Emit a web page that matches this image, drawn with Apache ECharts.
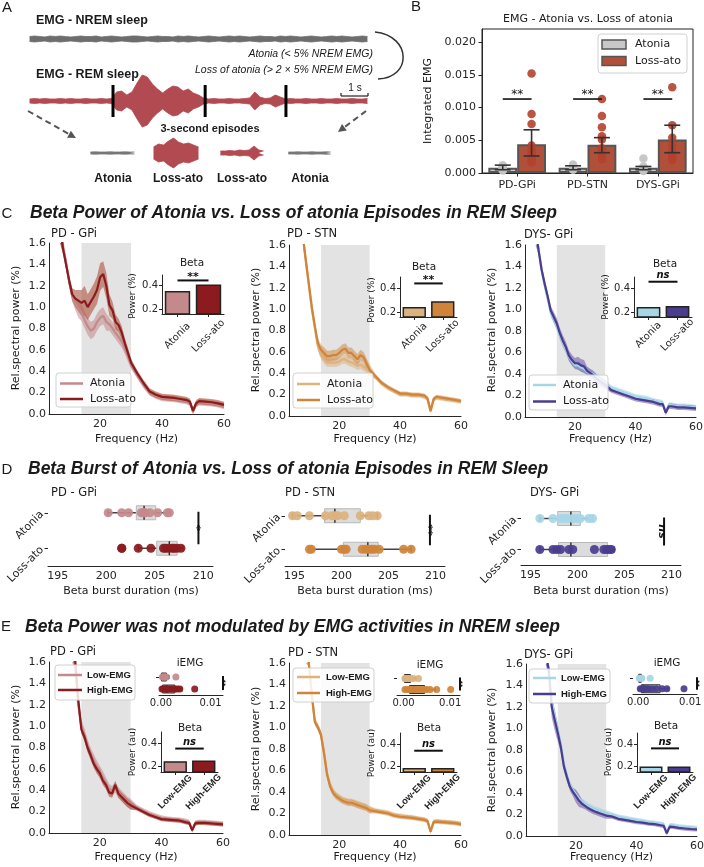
<!DOCTYPE html>
<html>
<head>
<meta charset="utf-8">
<script src="https://cdn.jsdelivr.net/npm/echarts@6.0.0/dist/echarts.min.js"></script>
<style>
html,body{margin:0;padding:0;background:#fff;}
#chart{width:704px;height:867px;}
</style>
</head>
<body>
<div id="chart"></div>
<script>
// ======================= DATA =======================
// ---- Panel A : EMG envelopes (half amplitude), 6 samples per second ----
const emgSampleRate = 6;
const nremEnvelope = [2.5,3,2.5,2,3,2.5,3,2.5,2,2.5, 3,2.5,2.5,3,2,2.5,3,2.5,2,2.5, 3,3,2.5,2,2.5,3,2.5,2.5,2,3,
  2.5,3,2.5,2,2.5,3,2.5,2,2.5,3, 2.5,3,2.5,2,2.5,3,2.5,2.5,2,3, 2.5,3,2.5,2,2.5,3,2.5,2,2.5,3, 2.5,3,2.5,2,2.5,3,2.5];
const remEnvelope = [2,2.5,2,2.5,2,2,2.5,2,2.5,2, 2,2.5,2,2,2.5,2,2.5,9,10,6, 9,18,26,24,17,12,8,12,15,14,
  10,12,8,6,3,2,2.5,2,2,2.5, 2,2,2.5,3,9,4,2.5,3,6,4, 2,2.5,2,2,2.5,2,2,2.5,2,2, 2.5,2,2,2.5,2,2,2.5];
const episodeBoundsSec = [2.8, 5.8, 8.43];
const snippetLabels = ['Atonia', 'Loss-ato', 'Loss-ato', 'Atonia'];
const snippetAtonia1 = [1,1.2,1,1,1.2,1,1,1.2,1,1];
const snippetLoss1 = [6,9,8,12,15,11,9,10,8,6];
const snippetLoss2 = [2,2,2.5,2,3,2.5,3,7,3,2];
const snippetAtonia2 = [1,1,1.2,1,1,1.2,1,1,1.2,1];

// ---- Panel B : integrated EMG ----
const bGroups = ['PD-GPi', 'PD-STN', 'DYS-GPi'];
const bYTicks = [0, 0.005, 0.01, 0.015, 0.02];
const bAtonia = [0.0008, 0.0008, 0.0008];
const bAtoniaLo = [0.0005, 0.0005, 0.0005];
const bAtoniaHi = [0.0012, 0.0011, 0.0010];
const bLoss = [0.0044, 0.0043, 0.0051];
const bLossLo = [0.0026, 0.0031, 0.0031];
const bLossHi = [0.0066, 0.0054, 0.0073];
const bAtoniaPts = [[0.0012,0.0010,0.0008,0.0006,0.0005,0.0004],[0.0013,0.0011,0.0009,0.0007,0.0005],[0.0022,0.0010,0.0007,0.0005,0.0003]];
const bLossPts = [[0.0152,0.0090,0.0075,0.0042,0.0035,0.0030,0.0026,0.0022,0.0020,0.0016],
  [0.0113,0.0087,0.0070,0.0056,0.0051,0.0038,0.0031,0.0026,0.0021],
  [0.0131,0.0073,0.0054,0.0042,0.0033,0.0028,0.0023,0.0020]];
const bSigLevel = [0.0113, 0.0113, 0.0113];
const bSigText = ['**', '**', '**'];

// ---- Spectra (Panels C and E) ----
const freqHz = [4,5,6,7,8,9,10,11,12, 13,14,15,16,17,18,19,20,21, 22,23,24,25,26,27,28,29,30, 32,34,36,38,40,42,44,46,48, 49,50,51,52, 54,56,58,60];
const betaBandHz = [14, 30];

const cGpiAtonia = [2.6,2.3,2.0,1.78,1.58,1.42,1.24,1.1,1.03, 0.98,0.95,0.88,0.82,0.78,0.8,0.86,0.9,0.92, 0.86,0.84,0.8,0.76,0.72,0.68,0.61,0.54,0.46, 0.36,0.27,0.2,0.17,0.15,0.145,0.14,0.13,0.12, 0.105,0.02,0.09,0.11, 0.105,0.1,0.09,0.075];
const cGpiAtoniaErr = [0.05,0.05,0.05,0.05,0.05,0.05,0.05,0.05,0.06, 0.08,0.08,0.08,0.08,0.08,0.08,0.08,0.08,0.08, 0.08,0.06,0.06,0.06,0.06,0.06,0.05,0.05,0.04, 0.03,0.03,0.03,0.03,0.03,0.03,0.03,0.03,0.03, 0.03,0.03,0.03,0.03, 0.03,0.03,0.03,0.03];
const cGpiLoss = [2.6,2.3,2.0,1.78,1.55,1.4,1.25,1.12,1.08, 1.06,1.04,1.06,1.0,1.05,1.1,1.16,1.28,1.31, 1.2,1.02,0.97,0.86,0.83,0.76,0.66,0.57,0.48, 0.38,0.29,0.21,0.18,0.16,0.155,0.15,0.14,0.13, 0.115,0.03,0.1,0.12, 0.115,0.11,0.1,0.085];
const cGpiLossErr = [0.05,0.05,0.05,0.05,0.05,0.05,0.05,0.06,0.08, 0.1,0.12,0.14,0.12,0.12,0.12,0.13,0.13,0.12, 0.12,0.1,0.08,0.07,0.06,0.06,0.05,0.05,0.04, 0.03,0.03,0.03,0.03,0.03,0.03,0.03,0.03,0.03, 0.03,0.03,0.03,0.03, 0.03,0.03,0.03,0.03];

const cStnAtonia = [2.8,2.5,2.2,1.9,1.7,1.46,1.23,1.0,0.82, 0.65,0.57,0.53,0.5,0.5,0.5,0.5,0.51,0.53, 0.53,0.51,0.5,0.49,0.47,0.48,0.46,0.44,0.41, 0.36,0.3,0.26,0.23,0.2,0.2,0.19,0.19,0.18, 0.16,0.04,0.15,0.17, 0.16,0.15,0.145,0.135];
const cStnAtoniaErr = [0.03,0.03,0.03,0.03,0.03,0.03,0.03,0.03,0.03, 0.04,0.04,0.04,0.04,0.04,0.04,0.04,0.04,0.04, 0.04,0.04,0.04,0.04,0.04,0.04,0.04,0.04,0.04, 0.02,0.02,0.02,0.02,0.02,0.02,0.02,0.02,0.02, 0.02,0.02,0.02,0.02, 0.02,0.02,0.02,0.02];
const cStnLoss = [2.8,2.5,2.2,1.9,1.7,1.46,1.24,1.02,0.84, 0.68,0.62,0.59,0.56,0.56,0.57,0.57,0.59,0.62, 0.63,0.59,0.59,0.56,0.53,0.57,0.55,0.49,0.43, 0.37,0.31,0.27,0.24,0.21,0.21,0.2,0.2,0.19, 0.165,0.05,0.16,0.18, 0.17,0.16,0.15,0.14];
const cStnLossErr = [0.03,0.03,0.03,0.03,0.03,0.03,0.03,0.03,0.03, 0.05,0.05,0.05,0.05,0.05,0.05,0.05,0.05,0.05, 0.05,0.05,0.05,0.05,0.05,0.05,0.05,0.05,0.05, 0.02,0.02,0.02,0.02,0.02,0.02,0.02,0.02,0.02, 0.02,0.02,0.02,0.02, 0.02,0.02,0.02,0.02];

const cDysAtonia = [2.6,2.3,2.0,1.75,1.55,1.36,1.22,1.1,0.97, 0.91,0.84,0.76,0.69,0.63,0.56,0.52,0.48,0.48, 0.46,0.45,0.42,0.41,0.4,0.37,0.35,0.33,0.31, 0.27,0.25,0.23,0.21,0.19,0.18,0.17,0.15,0.14, 0.13,0.05,0.11,0.11, 0.1,0.1,0.095,0.09];
const cDysAtoniaErr = [0.04,0.04,0.04,0.04,0.04,0.04,0.04,0.04,0.04, 0.04,0.04,0.04,0.04,0.04,0.04,0.04,0.04,0.04, 0.04,0.04,0.04,0.04,0.04,0.04,0.04,0.04,0.04, 0.025,0.025,0.025,0.025,0.025,0.025,0.025,0.025,0.025, 0.025,0.025,0.025,0.025, 0.025,0.025,0.025,0.025];
const cDysLoss = [2.6,2.3,2.0,1.75,1.55,1.37,1.24,1.12,0.99, 0.93,0.87,0.78,0.71,0.65,0.57,0.53,0.5,0.5, 0.48,0.47,0.43,0.41,0.39,0.36,0.34,0.32,0.3, 0.25,0.23,0.21,0.19,0.17,0.16,0.15,0.14,0.12, 0.12,0.04,0.1,0.1, 0.09,0.09,0.085,0.08];
const cDysLossErr = [0.04,0.04,0.04,0.04,0.04,0.04,0.04,0.04,0.04, 0.05,0.05,0.05,0.05,0.05,0.05,0.05,0.05,0.06, 0.06,0.06,0.04,0.04,0.04,0.04,0.04,0.04,0.04, 0.025,0.025,0.025,0.025,0.025,0.025,0.025,0.025,0.025, 0.025,0.025,0.025,0.025, 0.025,0.025,0.025,0.025];

const eGpiLow = [3.5,3.2,2.9,2.6,2.3,2.05,1.9,1.72,1.55, 1.2,1.0,0.92,0.82,0.74,0.68,0.62,0.57,0.52, 0.47,0.41,0.39,0.43,0.38,0.35,0.32,0.29,0.27, 0.24,0.21,0.18,0.16,0.14,0.13,0.125,0.12,0.11, 0.1,0.03,0.095,0.1, 0.1,0.095,0.09,0.085];
const eGpiLowErr = [0.06,0.06,0.06,0.06,0.06,0.06,0.06,0.06,0.06, 0.06,0.06,0.06,0.06,0.06,0.06,0.06,0.06,0.06, 0.05,0.05,0.05,0.05,0.05,0.05,0.05,0.05,0.05, 0.025,0.025,0.025,0.025,0.025,0.025,0.025,0.025,0.025, 0.025,0.025,0.025,0.025, 0.025,0.025,0.025,0.025];
const eGpiHigh = [3.5,3.2,2.9,2.6,2.3,2.0,1.9,1.7,1.62, 1.25,0.97,0.9,0.8,0.73,0.65,0.6,0.56,0.49, 0.45,0.38,0.37,0.45,0.37,0.34,0.31,0.28,0.26, 0.23,0.2,0.17,0.15,0.13,0.125,0.12,0.115,0.1, 0.095,0.025,0.09,0.095, 0.095,0.09,0.085,0.08];
const eGpiHighErr = [0.04,0.04,0.04,0.04,0.04,0.04,0.04,0.04,0.04, 0.04,0.04,0.04,0.04,0.04,0.04,0.04,0.04,0.04, 0.04,0.04,0.04,0.04,0.04,0.04,0.04,0.04,0.04, 0.02,0.02,0.02,0.02,0.02,0.02,0.02,0.02,0.02, 0.02,0.02,0.02,0.02, 0.02,0.02,0.02,0.02];

const eStnLow = [3.5,3.1,2.8,2.5,2.2,1.9,1.6,1.3,1.06, 1.01,0.94,0.77,0.58,0.47,0.41,0.37,0.35,0.33, 0.32,0.31,0.31,0.3,0.29,0.28,0.27,0.26,0.24, 0.23,0.22,0.21,0.19,0.18,0.17,0.165,0.155,0.145, 0.135,0.035,0.125,0.13, 0.125,0.12,0.115,0.105];
const eStnLowErr = [0.03,0.03,0.03,0.03,0.03,0.03,0.03,0.03,0.03, 0.03,0.03,0.03,0.03,0.03,0.03,0.03,0.03,0.03, 0.03,0.03,0.03,0.03,0.03,0.03,0.03,0.03,0.03, 0.02,0.02,0.02,0.02,0.02,0.02,0.02,0.02,0.02, 0.02,0.02,0.02,0.02, 0.02,0.02,0.02,0.02];
const eStnHigh = [3.5,3.1,2.8,2.5,2.2,1.9,1.6,1.3,1.05, 1.0,0.93,0.76,0.56,0.45,0.39,0.36,0.34,0.32, 0.31,0.3,0.3,0.29,0.28,0.27,0.26,0.25,0.23, 0.22,0.21,0.2,0.18,0.17,0.165,0.16,0.15,0.14, 0.13,0.03,0.12,0.125, 0.12,0.115,0.11,0.1];
const eStnHighErr = [0.03,0.03,0.03,0.03,0.03,0.03,0.03,0.03,0.03, 0.03,0.03,0.03,0.03,0.03,0.03,0.03,0.03,0.03, 0.03,0.03,0.03,0.03,0.03,0.03,0.03,0.03,0.03, 0.02,0.02,0.02,0.02,0.02,0.02,0.02,0.02,0.02, 0.02,0.02,0.02,0.02, 0.02,0.02,0.02,0.02];

const eDysLow = [3.5,3.1,2.8,2.5,2.2,1.95,1.72,1.56,1.25, 1.12,0.99,0.86,0.68,0.57,0.48,0.43,0.39,0.35, 0.32,0.3,0.28,0.265,0.25,0.24,0.23,0.22,0.21, 0.2,0.18,0.17,0.16,0.15,0.14,0.13,0.125,0.115, 0.11,0.035,0.1,0.1, 0.09,0.085,0.08,0.075];
const eDysLowErr = [0.04,0.04,0.04,0.04,0.04,0.04,0.04,0.04,0.04, 0.03,0.03,0.03,0.03,0.03,0.03,0.03,0.03,0.03, 0.03,0.03,0.03,0.03,0.03,0.03,0.03,0.03,0.03, 0.02,0.02,0.02,0.02,0.02,0.02,0.02,0.02,0.02, 0.02,0.02,0.02,0.02, 0.02,0.02,0.02,0.02];
const eDysHigh = [3.5,3.1,2.8,2.5,2.2,1.95,1.7,1.55,1.2, 1.08,0.96,0.83,0.65,0.55,0.46,0.41,0.37,0.33, 0.3,0.28,0.26,0.245,0.23,0.22,0.21,0.2,0.19, 0.18,0.16,0.15,0.14,0.13,0.125,0.115,0.11,0.1, 0.095,0.025,0.087,0.085, 0.075,0.07,0.065,0.062];
const eDysHighErr = [0.04,0.04,0.04,0.04,0.04,0.04,0.05,0.08,0.1, 0.1,0.08,0.05,0.04,0.04,0.04,0.04,0.06,0.06, 0.04,0.03,0.03,0.03,0.03,0.03,0.03,0.03,0.03, 0.02,0.02,0.02,0.02,0.02,0.02,0.02,0.02,0.02, 0.02,0.02,0.02,0.02, 0.02,0.02,0.02,0.02];

// ---- Beta insets ----
const cBetaCats = ['Atonia', 'Loss-ato'];
const cGpiBeta = [0.355, 0.41];
const cStnBeta = [0.243, 0.29];
const cDysBeta = [0.243, 0.25];
const cBetaSig = ['**', '**', 'ns'];
const cBetaSigLevel = [0.444, 0.437, 0.451];
const eBetaCats = ['Low-EMG', 'High-EMG'];
const eGpiBeta = [0.245, 0.25];
const eStnBeta = [0.185, 0.185];
const eDysBeta = [0.2, 0.2];
const eBetaSigLevel = [0.355, 0.341, 0.362];

// ---- Panel D : beta burst duration (ms) ----
const dRows = ['Atonia', 'Loss-ato'];
const dXTicks = [195, 200, 205, 210];
const dGpiAtoniaPts = [200.2,201.6,202.3,203.6,203.8,203.9,204.0,204.5,205.3,206.3,206.5];
const dGpiAtoniaBox = [200.2,203.1,203.9,205.1,206.6];
const dGpiLossPts = [201.6,201.6,203.3,204.6,205.9,206.1,206.4,206.8,207.0,207.3,207.7];
const dGpiLossBox = [203.3,205.2,206.5,207.3,207.9];
const dStnAtoniaPts = [194.8,195.3,196.6,198.3,199.0,199.3,199.6,200.3,202.0,202.9,203.3,203.8];
const dStnAtoniaBox = [194.8,198.2,199.3,202.0,203.8];
const dStnLossPts = [196.6,196.8,200.0,200.3,200.5,202.2,202.6,202.9,203.2,203.5,204.0,206.6,207.4];
const dStnLossBox = [196.6,200.2,202.8,203.9,207.4];
const dDysAtoniaPts = [196.0,197.4,198.2,198.5,198.9,199.5,200.0,200.3,201.2,201.6];
const dDysAtoniaBox = [196.0,197.9,199.3,200.3,201.6];
const dDysLossPts = [196.0,197.4,197.8,198.2,199.1,199.5,201.8,202.8,203.1,203.4,203.6];
const dDysLossBox = [196.0,198.0,199.3,203.2,203.9];
const dSigX = [209.5, 209.4, 209.2];
const dSigText = ['*', '**', 'ns'];

// ---- Panel E : iEMG insets ----
const eRows = ['Low-EMG', 'High-EMG'];
const eGpiLowIemgBox = [0.0, 0.0001, 0.0005, 0.0011, 0.0016];
const eGpiLowIemgPts = [0.0003, 0.0005, 0.0008, 0.0011, 0.0030];
const eGpiHighIemgBox = [0.0001, 0.0003, 0.0012, 0.0028, 0.0042];
const eGpiHighIemgPts = [0.0002,0.0005,0.0008,0.0010,0.0013,0.0016,0.0020,0.0024,0.0028,0.0033,0.0038,0.0068];
const eStnLowIemgBox = [0.0, 0.0002, 0.0008, 0.0015, 0.0026];
const eStnLowIemgPts = [0.0003,0.0006,0.0010,0.0015,0.0021,0.0032];
const eStnHighIemgBox = [0.0002, 0.0013, 0.0022, 0.0045, 0.0068];
const eStnHighIemgPts = [0.0003,0.0008,0.0014,0.0020,0.0026,0.0031,0.0037,0.0043,0.0050,0.0057,0.0071,0.0101];
const eDysLowIemgBox = [0.0, 0.0001, 0.0003, 0.0006, 0.0010];
const eDysLowIemgPts = [0.0002,0.0004,0.0007,0.0023];
const eDysHighIemgBox = [0.0001, 0.0006, 0.0010, 0.0042, 0.0057];
const eDysHighIemgPts = [0.0004,0.0008,0.0012,0.0016,0.0020,0.0027,0.0035,0.0046,0.0055,0.0088];
const eIemgTicks = [0, 0.01];

// ======================= BUILD =======================
const FS = '"DejaVu Sans", sans-serif';
const FA = '"Liberation Sans", Arial, sans-serif';
const AX = '#262626';
const COL = {
  gpiAto: '#c4898b', gpiLoss: '#8b1b1e', gpiAtoBand: 'rgba(196,137,139,0.55)', gpiLossBand: 'rgba(172,84,58,0.6)',
  stnAto: '#dcb27e', stnLoss: '#d0843a', stnAtoBand: 'rgba(220,178,126,0.55)', stnLossBand: 'rgba(208,132,58,0.5)',
  dysAto: '#a7d6e7', dysLoss: '#4a3d8f', dysAtoBand: 'rgba(167,214,231,0.65)', dysLossBand: 'rgba(110,84,165,0.55)',
  rem: '#b24a52', nrem: '#6d6d6d'
};
const grids = [], xAxes = [], yAxes = [], series = [], graphics = [];

function addGrid(b) {
  grids.push({left: b[0], top: b[1], width: b[2], height: b[3], containLabel: false, outerBoundsMode: 'none', show: false});
  return grids.length - 1;
}
function addAxes(gi, x, y) {
  xAxes.push(Object.assign({gridIndex: gi, splitLine: {show: false}}, x));
  yAxes.push(Object.assign({gridIndex: gi, splitLine: {show: false}}, y));
  return [xAxes.length - 1, yAxes.length - 1];
}
function lbl(size, extra) { return Object.assign({color: AX, fontSize: size, fontFamily: FS}, extra || {}); }
const axLine = {show: true, onZero: false, lineStyle: {color: AX, width: 1}};
function txt(x, y, s, font, o) {
  o = o || {};
  graphics.push({type: 'text', x: x, y: y, rotation: o.rot || 0, z: 50, silent: true,
    style: {text: s, font: font, fill: o.color || '#1a1a1a', align: o.align || 'center', verticalAlign: o.va || 'middle',
      textAlign: o.align || 'center', textVerticalAlign: o.va || 'middle'}});
}
function gline(x1, y1, x2, y2, color, w, dash) {
  graphics.push({type: 'line', z: 50, silent: true, shape: {x1: x1, y1: y1, x2: x2, y2: y2},
    style: {stroke: color || '#222', lineWidth: w || 1, lineDash: dash || null}});
}
function gpoly(pts, color) { graphics.push({type: 'polygon', z: 50, silent: true, shape: {points: pts}, style: {fill: color}}); }
function legendBox(x, y, w, h, entries, lx1, lx2, tx, font) {
  graphics.push({type: 'rect', z: 40, silent: true, shape: {x: x, y: y, width: w, height: h, r: 3},
    style: {fill: 'rgba(255,255,255,0.85)', stroke: '#d0d0d0', lineWidth: 1}});
  entries.forEach(e => {
    gline(lx1, e.y, lx2, e.y, e.color, 2.5);
    txt(tx, e.y, e.text, font, {align: 'left'});
  });
}

// ---------- Panel A ----------
function envelopePanel(box, env, xMax, yHalf, color, xOf) {
  const gi = addGrid(box);
  const [xi, yi] = addAxes(gi, {type: 'value', min: 0, max: xMax, show: false}, {type: 'value', min: -yHalf, max: yHalf, show: false});
  const up = env.map((v, i) => [xOf(i), v]);
  const dn = env.map((v, i) => [xOf(i), -v]);
  [up, dn].forEach(d => series.push({type: 'line', xAxisIndex: xi, yAxisIndex: yi, data: d, symbol: 'none', silent: true,
    lineStyle: {color: color, width: 0.8}, areaStyle: {color: color, opacity: 1, origin: 0}, z: 2}));
  return [xi, yi];
}
const emgDur = remEnvelope.length / emgSampleRate;
envelopePanel([27, 33, 343, 12], nremEnvelope, emgDur, 6, COL.nrem, i => (i + 0.5) / emgSampleRate);
const remAx = envelopePanel([27, 71, 343, 60], remEnvelope, emgDur, 30, COL.rem, i => (i + 0.5) / emgSampleRate);
series.push({type: 'custom', xAxisIndex: remAx[0], yAxisIndex: remAx[1], data: episodeBoundsSec.map(t => [t]), encode: {x: 0}, z: 5, silent: true,
  renderItem: (p, api) => { const a = api.coord([api.value(0), 16]), b = api.coord([api.value(0), -16]);
    return {type: 'line', shape: {x1: a[0], y1: a[1], x2: b[0], y2: b[1]}, style: {stroke: '#000', lineWidth: 3}}; }});
const snippetBoxes = [[88, 138, 49, 30], [151, 138, 50, 30], [218, 138, 48, 30], [286, 138, 47, 30]];
const snippetData = [snippetAtonia1, snippetLoss1, snippetLoss2, snippetAtonia2];
const snippetColors = ['#777777', COL.rem, COL.rem, '#777777'];
snippetData.forEach((env, k) => envelopePanel(snippetBoxes[k], env, env.length, 15, snippetColors[k], i => i + 0.5));

txt(7, 8, 'A', '15px ' + FA);
txt(36, 21, 'EMG - NREM sleep', 'bold 12.5px ' + FA, {align: 'left'});
txt(36, 75, 'EMG - REM sleep', 'bold 12.5px ' + FA, {align: 'left'});
txt(373, 54, 'Atonia (< 5% NREM EMG)', 'italic 10.5px ' + FA, {align: 'right'});
txt(373, 70, 'Loss of atonia (> 2 \u00d7 5% NREM EMG)', 'italic 10.5px ' + FA, {align: 'right'});
graphics.push({type: 'bezierCurve', z: 50, silent: true, shape: {x1: 375, y1: 32, cpx1: 412, cpy1: 36, cpx2: 412, cpy2: 78, x2: 378, y2: 79},
  style: {stroke: '#333', lineWidth: 1.5, fill: 'none'}});
gline(341, 96, 368, 96, '#222', 1.2); gline(341, 96, 341, 93, '#222', 1.2); gline(368, 96, 368, 93, '#222', 1.2);
txt(355, 88, '1 s', '10px ' + FA);
gline(28, 111, 69, 134, '#555', 2, [6, 4]);
gpoly([[76, 138], [67.1, 137.7], [70.9, 130.7]], '#555');
gline(366, 111, 344.4, 127.2, '#555', 2, [6, 4]);
gpoly([[338, 132], [342, 124], [346.8, 130.4]], '#555');
txt(210, 129, '3-second episodes', 'bold 11px ' + FA);
const snippetLabelX = [113, 178, 242, 310];
snippetLabels.forEach((s, k) => txt(snippetLabelX[k], 179, s, 'bold 12px ' + FA));

// ---------- Panel B ----------
(function () {
  const gi = grids.length;
  grids.push({left: 482, top: 29, width: 211, height: 144, containLabel: false, outerBoundsMode: 'none', show: true, borderColor: '#222', borderWidth: 1, backgroundColor: 'transparent'});
  xAxes.push({gridIndex: gi, type: 'category', data: bGroups, axisLine: axLine, axisTick: {show: true, alignWithLabel: true, length: 3.5, lineStyle: {color: AX}},
    axisLabel: lbl(11, {margin: 7}), splitLine: {show: false}});
  const xc = xAxes.length - 1;
  xAxes.push({gridIndex: gi, type: 'value', min: -0.5, max: 2.5, show: false, splitLine: {show: false}});
  const xv = xAxes.length - 1;
  yAxes.push({gridIndex: gi, type: 'value', min: 0, max: 0.022, axisLine: axLine,
    axisTick: {show: true, length: 3.5, lineStyle: {color: AX}, customValues: bYTicks},
    axisLabel: lbl(11, {margin: 6, customValues: bYTicks, formatter: v => v.toFixed(3)}), splitLine: {show: false}});
  const yi = yAxes.length - 1;
  const off = 0.205;
  series.push({type: 'bar', xAxisIndex: xc, yAxisIndex: yi, data: bAtonia, barWidth: '41%', barGap: '0%',
    itemStyle: {color: '#c8c8c8', borderColor: '#555', borderWidth: 2}, z: 2, silent: true});
  series.push({type: 'bar', xAxisIndex: xc, yAxisIndex: yi, data: bLoss, barWidth: '41%', barGap: '0%',
    itemStyle: {color: '#b0503b', borderColor: '#555', borderWidth: 2}, z: 2, silent: true});
  const atoPts = [], lossPts = [];
  bAtoniaPts.forEach((arr, i) => arr.forEach(v => atoPts.push([i - off, v])));
  bLossPts.forEach((arr, i) => arr.forEach(v => lossPts.push([i + off, v])));
  series.push({type: 'scatter', xAxisIndex: xv, yAxisIndex: yi, data: atoPts, symbolSize: 8.5, itemStyle: {color: '#c4c4c4', opacity: 0.95}, z: 3, silent: true});
  series.push({type: 'scatter', xAxisIndex: xv, yAxisIndex: yi, data: lossPts, symbolSize: 8.5, itemStyle: {color: '#b5412e', opacity: 0.9}, z: 3, silent: true});
  const errData = [];
  bGroups.forEach((g, i) => { errData.push([i - off, bAtoniaLo[i], bAtoniaHi[i]]); errData.push([i + off, bLossLo[i], bLossHi[i]]); });
  series.push({type: 'custom', xAxisIndex: xv, yAxisIndex: yi, data: errData, encode: {x: 0, y: [1, 2]}, z: 4, silent: true,
    renderItem: (p, api) => { const a = api.coord([api.value(0), api.value(1)]), b = api.coord([api.value(0), api.value(2)]); const c = 8;
      const st = {stroke: '#333', lineWidth: 1.6};
      return {type: 'group', children: [
        {type: 'line', shape: {x1: a[0], y1: a[1], x2: b[0], y2: b[1]}, style: st},
        {type: 'line', shape: {x1: a[0] - c, y1: a[1], x2: a[0] + c, y2: a[1]}, style: st},
        {type: 'line', shape: {x1: b[0] - c, y1: b[1], x2: b[0] + c, y2: b[1]}, style: st}]}; }});
  series.push({type: 'custom', xAxisIndex: xv, yAxisIndex: yi, data: bSigLevel.map((v, i) => [i, v]), encode: {x: 0, y: 1}, z: 5, silent: true,
    renderItem: (p, api) => { const i = api.value(0), v = api.value(1); const a = api.coord([i - off, v]), b = api.coord([i + off, v]);
      return {type: 'group', children: [
        {type: 'line', shape: {x1: a[0], y1: a[1], x2: b[0], y2: b[1]}, style: {stroke: '#111', lineWidth: 1.6}},
        {type: 'text', x: (a[0] + b[0]) / 2, y: a[1] + 2, style: {text: bSigText[p.dataIndex], font: '12px ' + FS, fill: '#111', align: 'center', verticalAlign: 'bottom', textAlign: 'center', textVerticalAlign: 'bottom'}}]}; }});
})();
txt(416, 7, 'B', '15px ' + FA);
txt(588, 19, 'EMG - Atonia vs. Loss of atonia', '11px ' + FS);
txt(428, 101, 'Integrated EMG', '11px ' + FS, {rot: Math.PI / 2});
graphics.push({type: 'rect', z: 40, silent: true, shape: {x: 598, y: 34, width: 89, height: 39, r: 3}, style: {fill: 'rgba(255,255,255,0.85)', stroke: '#d0d0d0', lineWidth: 1}});
graphics.push({type: 'rect', z: 41, silent: true, shape: {x: 602, y: 40, width: 24, height: 9}, style: {fill: '#c8c8c8', stroke: '#555', lineWidth: 1.5}});
graphics.push({type: 'rect', z: 41, silent: true, shape: {x: 602, y: 56.5, width: 24, height: 9}, style: {fill: '#b0503b', stroke: '#555', lineWidth: 1.5}});
txt(635, 44.5, 'Atonia', '11px ' + FS, {align: 'left'});
txt(635, 61, 'Loss-ato', '11px ' + FS, {align: 'left'});

// ---------- Spectra ----------
function clampY(v) { return Math.max(0, Math.min(1.6, v)); }
function spectrumPanel(b, lines) {
  const gi = addGrid(b);
  const [xi, yi] = addAxes(gi,
    {type: 'value', min: 3.5, max: 60, axisLine: axLine, axisTick: {show: false, customValues: [20, 40, 60]}, axisLabel: lbl(11, {margin: 5, customValues: [20, 40, 60]})},
    {type: 'value', min: 0, max: 1.6, interval: 0.2, axisLine: axLine, axisTick: {show: false}, axisLabel: lbl(11, {margin: 3, formatter: v => v.toFixed(1)})});
  series.push({type: 'custom', xAxisIndex: xi, yAxisIndex: yi, data: [betaBandHz], encode: {x: [0, 1]}, z: 1, silent: true,
    renderItem: (p, api) => { const a = api.coord([api.value(0), 1.6]), c = api.coord([api.value(1), 0]);
      return {type: 'rect', shape: {x: a[0], y: a[1], width: c[0] - a[0], height: c[1] - a[1]}, style: {fill: '#e3e3e3'}}; }});
  lines.forEach(ln => {
    series.push({type: 'custom', xAxisIndex: xi, yAxisIndex: yi, data: [[freqHz[0], 0]], encode: {x: 0, y: 1}, z: 2, silent: true,
      renderItem: (p, api) => {
        const upper = freqHz.map((f, i) => api.coord([f, clampY(ln.mean[i] + ln.err[i])]));
        const lower = freqHz.map((f, i) => api.coord([f, clampY(ln.mean[i] - ln.err[i])])).reverse();
        return {type: 'polygon', shape: {points: upper.concat(lower)}, style: {fill: ln.band}};
      }});
  });
  lines.forEach(ln => series.push({type: 'line', xAxisIndex: xi, yAxisIndex: yi, data: freqHz.map((f, i) => [f, ln.mean[i]]),
    symbol: 'none', lineStyle: {color: ln.color, width: 2.2}, z: 3, silent: true, clip: true}));
}
function betaInset(b, cats, vals, colors, yMin, yMax, sigLevel, sigText, labelMargin, bold) {
  const gi = addGrid(b);
  const [xi, yi] = addAxes(gi,
    {type: 'category', data: cats, axisLine: axLine, axisTick: {show: true, alignWithLabel: true, length: 3, lineStyle: {color: AX}},
      axisLabel: lbl(bold ? 9.5 : 10, {rotate: 45, margin: labelMargin, align: 'center', verticalAlign: 'middle', fontWeight: bold ? 'bold' : 'normal', interval: 0,
        fontFamily: bold ? FA : FS})},
    {type: 'value', min: yMin, max: yMax, axisLine: axLine, axisTick: {show: true, length: 3, lineStyle: {color: AX}, customValues: [0.2, 0.4]},
      axisLabel: lbl(10, {margin: 4, customValues: [0.2, 0.4], formatter: v => v.toFixed(1)})});
  series.push({type: 'bar', xAxisIndex: xi, yAxisIndex: yi, data: vals.map((v, i) => ({value: v, itemStyle: {color: colors[i]}})),
    barWidth: '82%', itemStyle: {borderColor: '#222', borderWidth: 1.5}, clip: true, z: 2, silent: true});
  series.push({type: 'custom', xAxisIndex: xi, yAxisIndex: yi, data: [[0, 1, sigLevel]], encode: {x: [0, 1], y: 2}, z: 5, silent: true,
    renderItem: (p, api) => { const a = api.coord([0, api.value(2)]), c = api.coord([1, api.value(2)]);
      const it = sigText === 'ns';
      return {type: 'group', children: [
        {type: 'line', shape: {x1: a[0], y1: a[1], x2: c[0], y2: c[1]}, style: {stroke: '#111', lineWidth: 2}},
        {type: 'text', x: (a[0] + c[0]) / 2, y: a[1] + (it ? -1 : 2), style: {text: sigText, font: (it ? 'italic bold 10px ' : 'bold 11px ') + FS, fill: '#111',
          align: 'center', verticalAlign: 'bottom', textAlign: 'center', textVerticalAlign: 'bottom'}}]}; }});
}
function boxRender(halfH, fill, edge, whisker, capH) {
  return (p, api) => {
    const c = api.value(0);
    const P = [1, 2, 3, 4, 5].map(d => api.coord([api.value(d), c]));
    const y = P[0][1];
    const ws = {stroke: whisker, lineWidth: 1.5};
    return {type: 'group', children: [
      {type: 'line', shape: {x1: P[0][0], y1: y, x2: P[1][0], y2: y}, style: ws},
      {type: 'line', shape: {x1: P[3][0], y1: y, x2: P[4][0], y2: y}, style: ws},
      {type: 'line', shape: {x1: P[0][0], y1: y - capH, x2: P[0][0], y2: y + capH}, style: ws},
      {type: 'line', shape: {x1: P[4][0], y1: y - capH, x2: P[4][0], y2: y + capH}, style: ws},
      {type: 'rect', shape: {x: P[1][0], y: y - halfH, width: P[3][0] - P[1][0], height: 2 * halfH}, style: {fill: fill, stroke: edge, lineWidth: 1}},
      {type: 'line', shape: {x1: P[2][0], y1: y - halfH, x2: P[2][0], y2: y + halfH}, style: {stroke: '#333', lineWidth: 1.5}}]};
  };
}
function boxStrip(xi, yi, rows, halfH, fill, edge, size, capH) {
  series.push({type: 'custom', xAxisIndex: xi, yAxisIndex: yi, data: rows.map((r, k) => [k].concat(r.box)), encode: {y: 0, x: [1, 2, 3, 4, 5]},
    z: 2, silent: true, renderItem: boxRender(halfH, fill, edge, '#444', capH)});
  rows.forEach((r, k) => series.push({type: 'scatter', xAxisIndex: xi, yAxisIndex: yi, data: r.pts.map(v => [v, k]), symbolSize: size,
    itemStyle: {color: r.color, opacity: 0.92}, z: 3, silent: true}));
}
function vSig(xi, yi, xVal, text, fontPx, topOff, botOff) {
  series.push({type: 'custom', xAxisIndex: xi, yAxisIndex: yi, data: [[xVal]], encode: {x: 0}, z: 5, silent: true,
    renderItem: (p, api) => { const a = api.coord([api.value(0), 0]), c = api.coord([api.value(0), 1]);
      const it = text === 'ns';
      return {type: 'group', children: [
        {type: 'line', shape: {x1: a[0], y1: a[1] - topOff, x2: c[0], y2: c[1] - botOff}, style: {stroke: '#111', lineWidth: 2}},
        {type: 'text', x: a[0] + 3, y: (a[1] + c[1]) / 2 - (topOff + botOff) / 2, rotation: -Math.PI / 2,
          style: {text: text, font: (it ? 'italic bold ' : 'bold ') + fontPx + 'px ' + FS, fill: '#111', align: 'center', verticalAlign: 'top', textAlign: 'center', textVerticalAlign: 'top'}}]}; }});
}

// ---------- Panel C ----------
const TITLE_FONT = 'italic bold 17.5px ' + FA;
txt(7, 213.5, 'C', '15px ' + FA);
txt(30, 213, 'Beta Power of Atonia vs. Loss of atonia Episodes in REM Sleep', TITLE_FONT, {align: 'left'});
spectrumPanel([49, 243, 175, 171], [
  {mean: cGpiAtonia, err: cGpiAtoniaErr, color: COL.gpiAto, band: COL.gpiAtoBand},
  {mean: cGpiLoss, err: cGpiLossErr, color: COL.gpiLoss, band: COL.gpiLossBand}]);
spectrumPanel([289, 245, 172, 171], [
  {mean: cStnAtonia, err: cStnAtoniaErr, color: COL.stnAto, band: COL.stnAtoBand},
  {mean: cStnLoss, err: cStnLossErr, color: COL.stnLoss, band: COL.stnLossBand}]);
spectrumPanel([525, 245, 171, 172], [
  {mean: cDysAtonia, err: cDysAtoniaErr, color: COL.dysAto, band: COL.dysAtoBand},
  {mean: cDysLoss, err: cDysLossErr, color: COL.dysLoss, band: COL.dysLossBand}]);
betaInset([162, 275, 62, 39], cBetaCats, cGpiBeta, [COL.gpiAto, COL.gpiLoss], 0.16, 0.49, cBetaSigLevel[0], cBetaSig[0], 22, false);
betaInset([400, 277, 57, 40], cBetaCats, cStnBeta, [COL.stnAto, COL.stnLoss], 0.16, 0.49, cBetaSigLevel[1], cBetaSig[1], 19, false);
betaInset([634, 277, 58, 40], cBetaCats, cDysBeta, [COL.dysAto, COL.dysLoss], 0.16, 0.49, cBetaSigLevel[2], cBetaSig[2], 18, false);
[[51, 234, 'PD - GPi'], [287, 234, 'PD - STN'], [524, 235, 'DYS- GPi']].forEach(t => txt(t[0], t[1], t[2], '11.5px ' + FS, {align: 'left'}));
[[192, 263, 'Beta'], [424, 267, 'Beta'], [665, 264, 'Beta']].forEach(t => txt(t[0], t[1], t[2], '10.5px ' + FS));
[[133, 296, 'Power (%)'], [372, 300, 'Power (%)'], [606, 297, 'Power (%)']].forEach(t => txt(t[0], t[1], t[2], '9px ' + FS, {rot: Math.PI / 2}));
[[16, 328], [256, 330], [492, 330]].forEach(t => txt(t[0], t[1], 'Rel.spectral power (%)', '11px ' + FS, {rot: Math.PI / 2}));
[136.5, 375, 610.5].forEach(x => txt(x, 439, 'Frequency (Hz)', '11px ' + FS));
legendBox(56, 373, 75, 34, [{y: 383.5, color: COL.gpiAto, text: 'Atonia'}, {y: 399, color: COL.gpiLoss, text: 'Loss-ato'}], 60, 83, 90, '11px ' + FS);
legendBox(293, 373, 80, 35, [{y: 384, color: COL.stnAto, text: 'Atonia'}, {y: 400, color: COL.stnLoss, text: 'Loss-ato'}], 297, 320, 327, '11px ' + FS);
legendBox(529, 375, 79, 35, [{y: 385, color: COL.dysAto, text: 'Atonia'}, {y: 401.5, color: COL.dysLoss, text: 'Loss-ato'}], 533, 556, 563, '11px ' + FS);

// ---------- Panel D ----------
txt(7, 470, 'D', '15px ' + FA);
txt(28, 469, 'Beta Burst of Atonia vs. Loss of atonia Episodes in REM Sleep', TITLE_FONT, {align: 'left'});
function burstPanel(b, rows, sigX, sigText) {
  const gi = addGrid(b);
  const [xi, yi] = addAxes(gi,
    {type: 'value', min: 194, max: 211, axisLine: axLine, axisTick: {show: false, customValues: dXTicks}, axisLabel: lbl(11, {margin: 5, customValues: dXTicks})},
    {type: 'category', data: dRows, inverse: true, axisLine: {show: false, onZero: false}, axisTick: {show: true, alignWithLabel: true, length: 3.5, lineStyle: {color: AX}},
      axisLabel: lbl(11, {rotate: 45, margin: 6, interval: 0})});
  boxStrip(xi, yi, rows, 7, 'rgba(205,205,205,0.7)', '#b8b8b8', 9, 3);
  vSig(xi, yi, sigX, sigText, 11, 1, 4);
}
burstPanel([48, 495, 165, 71], [{box: dGpiAtoniaBox, pts: dGpiAtoniaPts, color: COL.gpiAto}, {box: dGpiLossBox, pts: dGpiLossPts, color: COL.gpiLoss}], dSigX[0], dSigText[0]);
burstPanel([285, 499, 160, 67], [{box: dStnAtoniaBox, pts: dStnAtoniaPts, color: COL.stnAto}, {box: dStnLossBox, pts: dStnLossPts, color: COL.stnLoss}], dSigX[1], dSigText[1]);
burstPanel([521, 503, 160, 62], [{box: dDysAtoniaBox, pts: dDysAtoniaPts, color: COL.dysAto}, {box: dDysLossBox, pts: dDysLossPts, color: COL.dysLoss}], dSigX[2], dSigText[2]);
[[51, 493, 'PD - GPi'], [285, 493, 'PD - STN'], [530, 493, 'DYS- GPi']].forEach(t => txt(t[0], t[1], t[2], '11.5px ' + FS, {align: 'left'}));
[131, 365, 601].forEach(x => txt(x, 591, 'Beta burst duration (ms)', '11px ' + FS));

// ---------- Panel E ----------
txt(6, 627, 'E', '15px ' + FA);
txt(25, 627, 'Beta Power was not modulated by EMG activities in NREM sleep', TITLE_FONT, {align: 'left'});
spectrumPanel([49, 662, 174, 171], [
  {mean: eGpiLow, err: eGpiLowErr, color: COL.gpiAto, band: COL.gpiAtoBand},
  {mean: eGpiHigh, err: eGpiHighErr, color: COL.gpiLoss, band: COL.gpiLossBand}]);
spectrumPanel([289, 663, 172, 172], [
  {mean: eStnLow, err: eStnLowErr, color: COL.stnAto, band: COL.stnAtoBand},
  {mean: eStnHigh, err: eStnHighErr, color: COL.stnLoss, band: COL.stnLossBand}]);
spectrumPanel([526, 664, 171, 172], [
  {mean: eDysLow, err: eDysLowErr, color: COL.dysAto, band: COL.dysAtoBand},
  {mean: eDysHigh, err: eDysHighErr, color: COL.dysLoss, band: COL.dysLossBand}]);
betaInset([161, 732, 57, 40], eBetaCats, eGpiBeta, [COL.gpiAto, COL.gpiLoss], 0.15, 0.5, eBetaSigLevel[0], 'ns', 20, true);
betaInset([400, 733, 57, 39], eBetaCats, eStnBeta, [COL.stnAto, COL.stnLoss], 0.15, 0.5, eBetaSigLevel[1], 'ns', 20, true);
betaInset([637, 733, 56, 39], eBetaCats, eDysBeta, [COL.dysAto, COL.dysLoss], 0.15, 0.5, eBetaSigLevel[2], 'ns', 20, true);
function iemgInset(b, xMin, xMax, rows) {
  const gi = addGrid(b);
  const [xi, yi] = addAxes(gi,
    {type: 'value', min: xMin, max: xMax, axisLine: axLine, axisTick: {show: false, customValues: eIemgTicks}, axisLabel: lbl(10, {margin: 3, customValues: eIemgTicks, formatter: v => v.toFixed(2)})},
    {type: 'category', data: eRows, inverse: true, axisLine: {show: false, onZero: false}, axisTick: {show: true, alignWithLabel: true, length: 3, lineStyle: {color: AX}}, axisLabel: {show: false}});
  boxStrip(xi, yi, rows, 4, 'rgba(120,120,120,0.45)', '#333', 7, 2);
  vSig(xi, yi, xMax, '**', 6.5, 1, -1);
}
iemgInset([159, 671, 64, 24], -0.0004, 0.0125, [{box: eGpiLowIemgBox, pts: eGpiLowIemgPts, color: COL.gpiAto}, {box: eGpiHighIemgBox, pts: eGpiHighIemgPts, color: COL.gpiLoss}]);
iemgInset([397, 673, 63, 22], -0.0014, 0.0121, [{box: eStnLowIemgBox, pts: eStnLowIemgPts, color: COL.stnAto}, {box: eStnHighIemgBox, pts: eStnHighIemgPts, color: COL.stnLoss}]);
iemgInset([633, 673, 64, 21], -0.001, 0.0113, [{box: eDysLowIemgBox, pts: eDysLowIemgPts, color: COL.dysAto}, {box: eDysHighIemgBox, pts: eDysHighIemgPts, color: COL.dysLoss}]);
[[50, 652, 'PD - GPi'], [288, 653, 'PD - STN'], [524, 655, 'DYS- GPi']].forEach(t => txt(t[0], t[1], t[2], '11.5px ' + FS, {align: 'left'}));
[[190, 663, 'iEMG'], [430, 665, 'iEMG'], [667, 663, 'iEMG']].forEach(t => txt(t[0], t[1], t[2], '10.5px ' + FS));
[[190, 728, 'Beta'], [429, 728, 'Beta'], [666, 726, 'Beta']].forEach(t => txt(t[0], t[1], t[2], '10.5px ' + FS));
[[133, 752, 'Power (au)'], [372, 753, 'Power (au)'], [609, 752, 'Power (au)']].forEach(t => txt(t[0], t[1], t[2], '9px ' + FS, {rot: Math.PI / 2}));
[[16, 747], [256, 749], [492, 750]].forEach(t => txt(t[0], t[1], 'Rel.spectral power (%)', '11px ' + FS, {rot: Math.PI / 2}));
[136, 375, 611.5].forEach(x => txt(x, 857, 'Frequency (Hz)', '11px ' + FS));
legendBox(55, 665, 80, 35, [{y: 675, color: COL.gpiAto, text: 'Low-EMG'}, {y: 690, color: COL.gpiLoss, text: 'High-EMG'}], 58, 82, 87, 'bold 9.5px ' + FA);
legendBox(293, 668, 81, 34, [{y: 677, color: COL.stnAto, text: 'Low-EMG'}, {y: 693, color: COL.stnLoss, text: 'High-EMG'}], 297, 320, 326, 'bold 9.5px ' + FA);
legendBox(529, 669, 81, 34, [{y: 678, color: COL.dysAto, text: 'Low-EMG'}, {y: 694, color: COL.dysLoss, text: 'High-EMG'}], 533, 556, 561, 'bold 9.5px ' + FA);

const chart = echarts.init(document.getElementById('chart'), null, {renderer: 'canvas', width: 704, height: 867});
chart.setOption({animation: false, backgroundColor: '#fff', grid: grids, xAxis: xAxes, yAxis: yAxes, series: series, graphic: {elements: graphics}});
</script>
</body>
</html>
